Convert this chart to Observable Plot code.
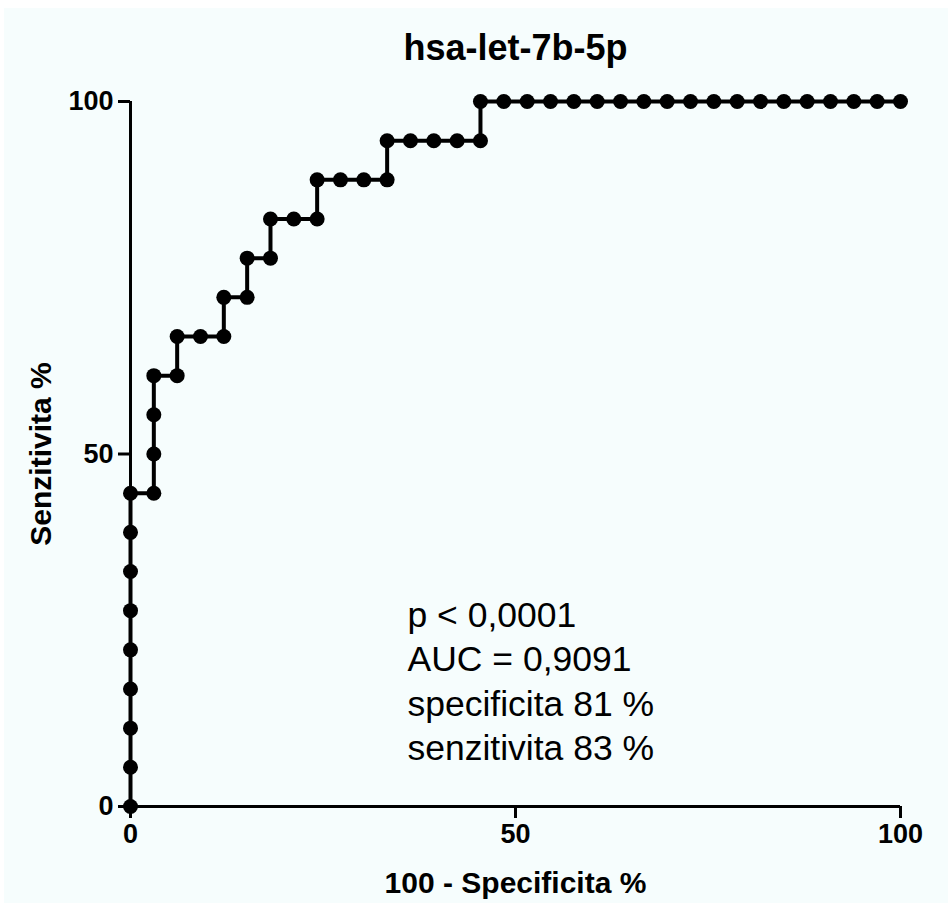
<!DOCTYPE html>
<html>
<head>
<meta charset="utf-8">
<script src="https://cdn.jsdelivr.net/npm/d3@7"></script>
<script src="https://cdn.jsdelivr.net/npm/@observablehq/plot@0.6"></script>
<style>
  html, body { margin: 0; padding: 0; background: #ffffff; }
  #chart { position: absolute; left: 4px; top: 8px; width: 944px; height: 895px; background: #f6fdfd; }
  #chart svg { display: block; }
</style>
</head>
<body>
<div id="chart"></div>
<script>
const title = "hsa-let-7b-5p";
const xLabel = "100 - Specificita %";
const yLabel = "Senzitivita %";
const xTicks = [0, 50, 100];
const yTicks = [0, 50, 100];
const notes = ["p < 0,0001", "AUC = 0,9091", "specificita 81 %", "senzitivita 83 %"];

// 100 - Specificity (%) for each ROC point
const fpr = [
  0, 0, 0, 0, 0, 0, 0, 0, 0,
  3.03, 3.03, 3.03, 3.03,
  6.06, 6.06,
  9.09,
  12.12, 12.12,
  15.15, 15.15,
  18.18, 18.18,
  21.21,
  24.24, 24.24,
  27.27,
  30.30,
  33.33, 33.33,
  36.36, 39.39, 42.42,
  45.45, 45.45,
  48.48, 51.52, 54.55, 57.58, 60.61, 63.64, 66.67, 69.70, 72.73,
  75.76, 78.79, 81.82, 84.85, 87.88, 90.91, 93.94, 96.97, 100
];
// Sensitivity (%) for each ROC point
const sens = [
  0, 5.56, 11.11, 16.67, 22.22, 27.78, 33.33, 38.89, 44.44,
  44.44, 50.00, 55.56, 61.11,
  61.11, 66.67,
  66.67,
  66.67, 72.22,
  72.22, 77.78,
  77.78, 83.33,
  83.33,
  83.33, 88.89,
  88.89,
  88.89,
  88.89, 94.44,
  94.44, 94.44, 94.44,
  94.44, 100,
  100, 100, 100, 100, 100, 100, 100, 100, 100,
  100, 100, 100, 100, 100, 100, 100, 100, 100
];

const points = fpr.map((x, i) => ({x, y: sens[i]}));
const font = "'Liberation Sans', Arial, Helvetica, sans-serif";

const plot = Plot.plot({
  width: 944,
  height: 895,
  marginLeft: 126,
  marginRight: 48,
  marginTop: 93,
  marginBottom: 97,
  style: {background: "transparent", color: "#000", fontFamily: font},
  x: {domain: [0, 100], label: null},
  y: {domain: [0, 100], label: null},
  marks: [
    Plot.axisY(yTicks, {tickSize: 12, tickPadding: 5, fontSize: 27, fontWeight: "bold", strokeWidth: 3, tickFormat: d => String(d), label: null}),
    Plot.axisX(xTicks, {tickSize: 12, tickPadding: 5, fontSize: 27, fontWeight: "bold", strokeWidth: 3, tickFormat: d => String(d), label: null}),
    Plot.ruleX([0], {stroke: "#000", strokeWidth: 3}),
    Plot.ruleY([0], {stroke: "#000", strokeWidth: 3}),
    Plot.line(points, {x: "x", y: "y", stroke: "#000", strokeWidth: 4}),
    Plot.dot(points, {x: "x", y: "y", r: 7.5, fill: "#000", stroke: "none"}),
    Plot.text([title], {text: d => d, frameAnchor: "top", textAnchor: "middle", lineAnchor: "bottom", dy: -42, fontSize: 36, fontWeight: "bold", fill: "#000"}),
    Plot.text([xLabel], {text: d => d, frameAnchor: "bottom", textAnchor: "middle", lineAnchor: "bottom", dy: 86, fontSize: 30, fontWeight: "bold", fill: "#000"}),
    Plot.text([yLabel], {text: d => d, frameAnchor: "left", textAnchor: "middle", lineAnchor: "bottom", rotate: -90, dx: -80, fontSize: 30, fontWeight: "bold", fill: "#000"}),
    ...notes.map((n, i) => Plot.text([n], {text: d => d, frameAnchor: "top-left", textAnchor: "start", lineAnchor: "bottom", dx: 277, dy: 525 + i * 44.5, fontSize: 35.5, fill: "#000"}))
  ]
});
document.getElementById("chart").appendChild(plot);
</script>
</body>
</html>
